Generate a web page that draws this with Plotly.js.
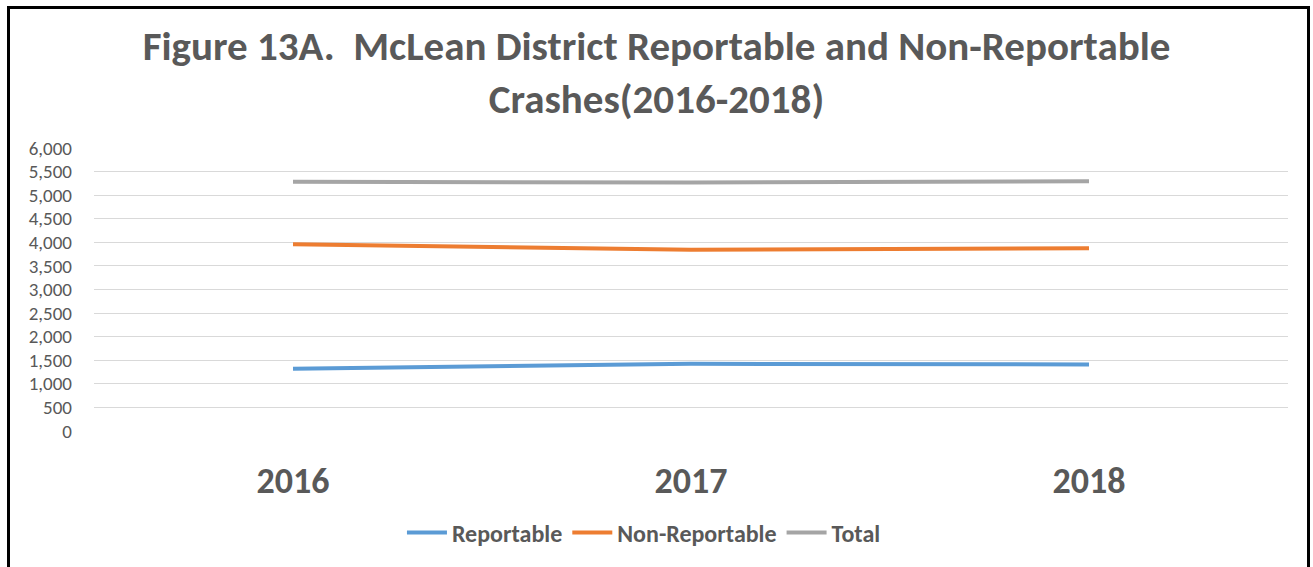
<!DOCTYPE html>
<html>
<head>
<meta charset="utf-8">
<script src="https://cdn.plot.ly/plotly-3.0.1.min.js"></script>
<style>
  html, body { margin: 0; padding: 0; background: #fff; }
  #wrap { position: relative; width: 1313px; height: 567px; overflow: hidden; }
  #chart { position: absolute; left: 0; top: 0; width: 1313px; height: 567px; }
  #frame { position: absolute; left: 7px; top: 6px; width: 1297px; height: 580px; border: 3px solid #000; pointer-events: none; }
</style>
</head>
<body>
<div id="wrap">
  <div id="chart"></div>
  <div id="frame"></div>
</div>
<script>
const years = ["2016", "2017", "2018"];
const reportable = [1322, 1425, 1412];
const nonReportable = [3958, 3842, 3876];
const total = [5284, 5267, 5297];
const yTicks = [0, 500, 1000, 1500, 2000, 2500, 3000, 3500, 4000, 4500, 5000, 5500, 6000];

const font = "Calibri, Carlito, 'Open Sans', 'Noto Sans', sans-serif";

function series(name, y, color) {
  return {
    type: "scatter", mode: "lines", name: name, x: years, y: y,
    line: { color: color, width: 4 }, hoverinfo: "x+y"
  };
}

const data = [
  series("Reportable", reportable, "#5B9BD5"),
  series("Non-Reportable", nonReportable, "#ED7D31"),
  series("Total", total, "#A5A5A5")
];

const layout = {
  width: 1313, height: 567,
  margin: { l: 94, r: 25, t: 148, b: 133 },
  paper_bgcolor: "#fff", plot_bgcolor: "#fff",
  font: { family: font, color: "#595959" },
  title: {
    text: "<b>Figure 13A.  McLean District Reportable and Non-Reportable<br>Crashes(2016-2018)</b>",
    font: { family: font, size: 41, color: "#595959" },
    x: 0.5, xanchor: "center", y: 0.895, yanchor: "middle"
  },
  xaxis: {
    type: "category", range: [-0.5, 2.5],
    showgrid: false, zeroline: false, showline: false,
    ticks: "", ticklabelstandoff: 25,
    tickfont: { family: font, size: 36, color: "#595959", weight: "bold" }
  },
  yaxis: {
    range: [0, 6000], tickvals: yTicks, tickformat: ",d",
    showgrid: true, gridcolor: "#D9D9D9", gridwidth: 1,
    zeroline: false, showline: false, ticks: "", ticklabelstandoff: 21,
    tickfont: { family: font, size: 19, color: "#595959" }
  },
  showlegend: true,
  legend: {
    orientation: "h", x: 0.4606, xanchor: "center", y: -0.36, yanchor: "middle",
    font: { family: font, size: 24, color: "#595959", weight: "bold" },
    itemwidth: 40, tracegroupgap: 0
  }
};

Plotly.newPlot("chart", data, layout, { displayModeBar: false, staticPlot: true });
</script>
</body>
</html>
